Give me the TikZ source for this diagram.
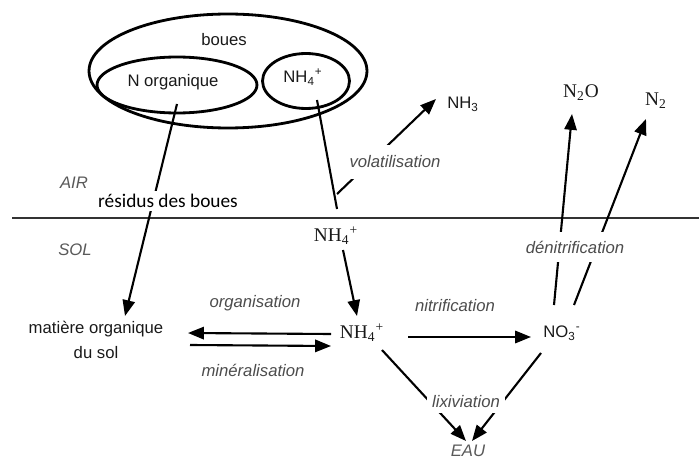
\documentclass[tikz,border=0pt]{standalone}
\usepackage{fontspec}
\setmainfont{Liberation Sans}
\newfontfamily\serifnh{Liberation Serif}
\newfontfamily\calib{Carlito}
\usetikzlibrary{arrows.meta,shapes.geometric}
\begin{document}
\begin{tikzpicture}[x=0.02cm,y=-0.02cm,
  lbl/.style={font=\fontsize{9.5}{11}\selectfont, text=black!90, inner sep=1pt},
  proc/.style={font=\fontsize{9.5}{11}\selectfont\itshape, text=black!70, fill=white, inner sep=2pt},
  zone/.style={font=\fontsize{9.5}{11}\selectfont\itshape, text=black!65},
  ser/.style={font=\fontsize{11}{13}\selectfont\serifnh, text=black!90, inner sep=1pt},
  arr/.style={line width=1.2pt, -{Triangle[length=9pt,width=7pt]}},
  ln/.style={line width=1.2pt},
  ell/.style={draw, ellipse, line width=1.6pt, inner sep=0pt}]
\useasboundingbox (0,0) rectangle (699,459);
% ellipses
\node[ell, minimum width=5.56cm, minimum height=2.28cm] (big) at (228,71) {};
\node[ell, minimum width=3.2cm, minimum height=1.12cm] (norg) at (177,85) {};
\node[ell, minimum width=1.74cm, minimum height=1.1cm] (nhell) at (306,81) {};
\node[lbl] (tboues) at (224,40) {boues};
\node[lbl] (tnorg) at (173,82) {N organique};
\node[lbl] (tnh) at (303,77) {NH\textsubscript{4}\textsuperscript{+}};
% separator
\coordinate (hl) at (12,218);
\coordinate (hr) at (699,218);
\draw[line width=1.3pt, black!80] (hl) -- (hr);
% species
\node[lbl] (nh3) at (463,104) {NH\textsubscript{3}};
\node[ser] (n2o) at (581,93) {N\textsubscript{2}O};
\node[ser] (n2) at (656,101) {N\textsubscript{2}};
\node[zone] (air) at (74,183) {AIR};
\node[zone] (sol) at (75,250) {SOL};
\node[ser] (nhs) at (336,236) {NH\textsubscript{4}\textsuperscript{+}};
\node[lbl, align=center, font=\fontsize{9.5}{14}\selectfont] (mat) at (96,340) {matière organique\\du sol};
\node[ser] (nhm) at (362,333) {NH\textsubscript{4}\textsuperscript{+}};
\node[lbl] (no3) at (562,333) {NO\textsubscript{3}\textsuperscript{-}};
\node[zone] (eau) at (468,451) {EAU};
% connector end points
\coordinate (a1) at (177,104);
\coordinate (a2) at (125,316);
\coordinate (b1) at (317,100);
\coordinate (b2) at (337,209);
\coordinate (v1) at (337,194);
\coordinate (v2) at (436,99);
\coordinate (s1) at (343,250);
\coordinate (s2) at (357,316);
\coordinate (o1) at (331,334);
\coordinate (o2) at (188,333);
\coordinate (m1) at (190,345);
\coordinate (m2) at (331,346);
\coordinate (n1) at (408,337);
\coordinate (n2e) at (531,337);
\coordinate (l1) at (382,350);
\coordinate (l2) at (466,441);
\coordinate (l3) at (541,353);
\coordinate (l4) at (472,441);
\coordinate (d1) at (554,305);
\coordinate (d2) at (572,114);
\coordinate (d3) at (574,305);
\coordinate (d4) at (646,119);
% connectors
\draw[arr] (a1) -- (a2);
\draw[ln] (b1) -- (b2);
\draw[arr] (v1) -- (v2);
\draw[arr] (s1) -- (s2);
\draw[arr] (o1) -- (o2);
\draw[arr] (m1) -- (m2);
\draw[arr] (n1) -- (n2e);
\draw[arr] (l1) -- (l2);
\draw[arr] (l3) -- (l4);
\draw[arr] (d1) -- (d2);
\draw[arr] (d3) -- (d4);
% process labels (on top, white background)
\node[fill=white, inner sep=2pt, font=\fontsize{11}{13}\selectfont\calib] (res) at (168,201) {résidus des boues};
\node[proc, inner sep=6pt] (vol) at (395,162) {volatilisation};
\node[proc, fill=none] (org) at (255,303) {organisation};
\node[proc, fill=none] (min) at (253,370) {minéralisation};
\node[proc, fill=none] (nit) at (455,306) {nitrification};
\node[proc, inner sep=3pt] (lix) at (466,402) {lixiviation};
\node[proc, inner sep=5pt] (den) at (575,247) {dénitrification};
\end{tikzpicture}
\end{document}
